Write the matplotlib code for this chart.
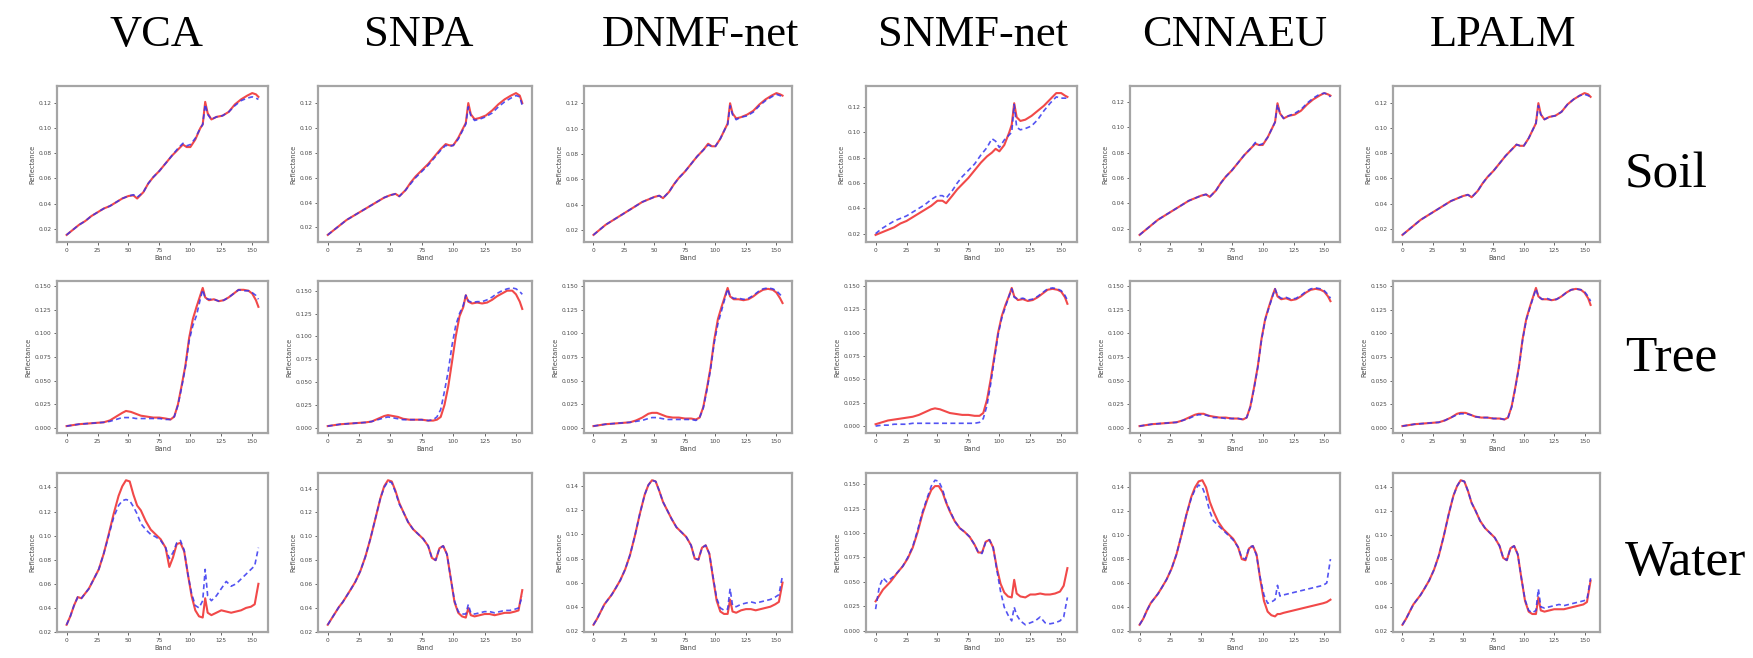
import matplotlib
matplotlib.use('Agg')
import matplotlib.pyplot as plt

# ---------------- data ----------------
methods = ['VCA', 'SNPA', 'DNMF-net', 'SNMF-net', 'CNNAEU', 'LPALM']
materials = ['Soil', 'Tree', 'Water']
x_ticks = [0, 25, 50, 75, 100, 125, 150]

soil_bands = [0, 5, 10, 15, 20, 25, 30, 35, 40, 45, 50, 54, 57, 62, 66, 70, 75, 80, 85, 90,
              94, 97, 100, 104, 108, 110, 112, 114, 117, 121, 126, 131, 136, 141, 146, 150, 153, 155]
tree_bands = [0, 5, 10, 15, 20, 25, 30, 35, 40, 45, 48, 52, 56, 60, 65, 70, 75, 80, 84, 87,
              90, 93, 96, 99, 102, 105, 108, 110, 112, 115, 119, 123, 127, 131, 135, 139, 143, 147, 150, 153, 155]
water_bands = [0, 3, 6, 9, 12, 15, 18, 22, 26, 30, 34, 38, 42, 45, 48, 51, 54, 57, 60, 64, 68, 72, 76, 80,
               83, 86, 89, 92, 95, 98, 101, 104, 107, 110, 112, 114, 117, 121, 125, 129, 133, 137, 141, 145, 149, 152, 155]

soil_yticks = [0.02, 0.04, 0.06, 0.08, 0.10, 0.12]
tree_yticks = [0.000, 0.025, 0.050, 0.075, 0.100, 0.125, 0.150]
water_yticks = [0.02, 0.04, 0.06, 0.08, 0.10, 0.12, 0.14]
water_yticks_snmf = [0.000, 0.025, 0.050, 0.075, 0.100, 0.125, 0.150]

# ---- Soil ----
vca_soil_red = [0.015, 0.019, 0.023, 0.026, 0.030, 0.033, 0.036, 0.038, 0.041, 0.044, 0.046, 0.0465, 0.044, 0.049, 0.056, 0.061, 0.066, 0.072, 0.078, 0.083,
                0.087, 0.085, 0.085, 0.091, 0.100, 0.103, 0.121, 0.112, 0.107, 0.109, 0.110, 0.113, 0.119, 0.123, 0.126, 0.128, 0.127, 0.125]
vca_soil_blue = [0.015, 0.019, 0.023, 0.026, 0.030, 0.033, 0.036, 0.038, 0.041, 0.044, 0.046, 0.047, 0.045, 0.049, 0.056, 0.061, 0.066, 0.072, 0.078, 0.084,
                 0.088, 0.086, 0.087, 0.092, 0.100, 0.103, 0.119, 0.111, 0.107, 0.109, 0.110, 0.113, 0.118, 0.122, 0.124, 0.125, 0.124, 0.123]
snpa_soil_red = [0.014, 0.018, 0.022, 0.026, 0.029, 0.032, 0.035, 0.038, 0.041, 0.044, 0.046, 0.047, 0.045, 0.050, 0.056, 0.061, 0.066, 0.071, 0.077, 0.083,
                 0.087, 0.086, 0.086, 0.092, 0.100, 0.104, 0.120, 0.111, 0.107, 0.108, 0.110, 0.114, 0.119, 0.123, 0.126, 0.128, 0.126, 0.120]
snpa_soil_blue = [0.014, 0.018, 0.022, 0.026, 0.029, 0.032, 0.035, 0.038, 0.041, 0.044, 0.046, 0.047, 0.045, 0.050, 0.055, 0.060, 0.065, 0.070, 0.076, 0.082,
                  0.086, 0.085, 0.086, 0.091, 0.099, 0.103, 0.117, 0.110, 0.106, 0.107, 0.109, 0.112, 0.117, 0.121, 0.124, 0.126, 0.125, 0.118]
dnmf_soil_red = [0.016, 0.020, 0.024, 0.027, 0.030, 0.033, 0.036, 0.039, 0.042, 0.044, 0.046, 0.047, 0.045, 0.050, 0.056, 0.061, 0.066, 0.072, 0.078, 0.083,
                 0.088, 0.086, 0.086, 0.092, 0.100, 0.104, 0.120, 0.112, 0.108, 0.109, 0.111, 0.114, 0.119, 0.123, 0.126, 0.128, 0.127, 0.126]
dnmf_soil_blue = [0.016, 0.020, 0.024, 0.027, 0.030, 0.033, 0.036, 0.039, 0.042, 0.044, 0.046, 0.047, 0.045, 0.050, 0.056, 0.061, 0.066, 0.072, 0.078, 0.083,
                  0.087, 0.086, 0.086, 0.092, 0.100, 0.103, 0.118, 0.111, 0.107, 0.109, 0.110, 0.113, 0.118, 0.122, 0.125, 0.127, 0.126, 0.125]
snmf_soil_red = [0.019, 0.021, 0.023, 0.025, 0.028, 0.030, 0.033, 0.036, 0.039, 0.042, 0.046, 0.046, 0.044, 0.050, 0.055, 0.059, 0.064, 0.070, 0.076, 0.081,
                 0.084, 0.087, 0.085, 0.090, 0.100, 0.106, 0.123, 0.112, 0.109, 0.110, 0.113, 0.117, 0.121, 0.126, 0.131, 0.131, 0.129, 0.128]
snmf_soil_blue = [0.020, 0.024, 0.027, 0.030, 0.032, 0.034, 0.037, 0.040, 0.043, 0.047, 0.050, 0.050, 0.048, 0.054, 0.060, 0.065, 0.070, 0.075, 0.082, 0.088,
                  0.095, 0.093, 0.088, 0.094, 0.098, 0.100, 0.122, 0.104, 0.102, 0.103, 0.105, 0.110, 0.117, 0.123, 0.128, 0.127, 0.127, 0.127]
cnn_soil_red = [0.015, 0.019, 0.023, 0.027, 0.030, 0.033, 0.036, 0.039, 0.042, 0.044, 0.046, 0.047, 0.045, 0.050, 0.056, 0.061, 0.066, 0.072, 0.078, 0.083,
                0.087, 0.086, 0.086, 0.092, 0.100, 0.104, 0.119, 0.111, 0.107, 0.109, 0.110, 0.113, 0.118, 0.122, 0.125, 0.127, 0.126, 0.125]
cnn_soil_blue = [0.015, 0.019, 0.023, 0.027, 0.030, 0.033, 0.036, 0.039, 0.042, 0.044, 0.046, 0.047, 0.045, 0.050, 0.056, 0.061, 0.066, 0.072, 0.078, 0.083,
                 0.088, 0.086, 0.087, 0.092, 0.100, 0.104, 0.118, 0.111, 0.107, 0.109, 0.111, 0.114, 0.119, 0.123, 0.126, 0.127, 0.126, 0.124]
lpalm_soil_red = [0.015, 0.019, 0.023, 0.027, 0.030, 0.033, 0.036, 0.039, 0.042, 0.044, 0.046, 0.047, 0.045, 0.050, 0.056, 0.061, 0.066, 0.072, 0.078, 0.083,
                  0.087, 0.086, 0.086, 0.092, 0.100, 0.104, 0.120, 0.111, 0.107, 0.109, 0.110, 0.113, 0.119, 0.123, 0.126, 0.128, 0.127, 0.125]
lpalm_soil_blue = [0.015, 0.019, 0.023, 0.027, 0.030, 0.033, 0.036, 0.039, 0.042, 0.044, 0.046, 0.047, 0.045, 0.050, 0.056, 0.061, 0.066, 0.072, 0.078, 0.083,
                   0.087, 0.086, 0.086, 0.092, 0.100, 0.104, 0.118, 0.111, 0.107, 0.109, 0.110, 0.113, 0.119, 0.123, 0.126, 0.127, 0.126, 0.125]

# ---- Tree ----
vca_tree_red = [0.002, 0.003, 0.004, 0.0045, 0.005, 0.0055, 0.006, 0.008, 0.012, 0.016, 0.018, 0.017, 0.015, 0.013, 0.012, 0.011, 0.011, 0.010, 0.009, 0.012,
                0.025, 0.045, 0.066, 0.095, 0.115, 0.128, 0.140, 0.148, 0.138, 0.135, 0.136, 0.134, 0.135, 0.138, 0.142, 0.146, 0.146, 0.145, 0.142, 0.135, 0.128]
vca_tree_blue = [0.002, 0.003, 0.004, 0.0045, 0.005, 0.0055, 0.006, 0.007, 0.009, 0.011, 0.011, 0.011, 0.010, 0.010, 0.010, 0.010, 0.010, 0.009, 0.009, 0.012,
                 0.024, 0.043, 0.064, 0.092, 0.108, 0.119, 0.136, 0.146, 0.137, 0.136, 0.136, 0.134, 0.135, 0.138, 0.142, 0.146, 0.145, 0.145, 0.143, 0.140, 0.136]
snpa_tree_red = [0.002, 0.003, 0.004, 0.0045, 0.005, 0.0055, 0.006, 0.007, 0.010, 0.013, 0.014, 0.013, 0.012, 0.010, 0.009, 0.009, 0.009, 0.008, 0.008, 0.009,
                 0.012, 0.025, 0.045, 0.072, 0.100, 0.122, 0.132, 0.145, 0.138, 0.136, 0.137, 0.136, 0.137, 0.140, 0.144, 0.147, 0.150, 0.150, 0.146, 0.138, 0.130]
snpa_tree_blue = [0.002, 0.003, 0.004, 0.0045, 0.005, 0.0055, 0.006, 0.007, 0.009, 0.011, 0.012, 0.011, 0.010, 0.009, 0.009, 0.009, 0.009, 0.008, 0.009, 0.012,
                  0.020, 0.040, 0.062, 0.090, 0.112, 0.125, 0.134, 0.145, 0.139, 0.137, 0.138, 0.138, 0.140, 0.143, 0.147, 0.150, 0.152, 0.153, 0.152, 0.149, 0.146]
dnmf_tree_red = [0.002, 0.003, 0.004, 0.0045, 0.005, 0.0055, 0.006, 0.008, 0.011, 0.015, 0.016, 0.016, 0.014, 0.012, 0.011, 0.011, 0.010, 0.010, 0.009, 0.011,
                 0.022, 0.042, 0.064, 0.093, 0.115, 0.128, 0.140, 0.148, 0.139, 0.136, 0.136, 0.135, 0.136, 0.139, 0.143, 0.146, 0.147, 0.146, 0.143, 0.137, 0.132]
dnmf_tree_blue = [0.002, 0.003, 0.004, 0.0045, 0.005, 0.0055, 0.006, 0.007, 0.008, 0.010, 0.011, 0.011, 0.010, 0.009, 0.009, 0.009, 0.009, 0.009, 0.008, 0.011,
                  0.021, 0.040, 0.062, 0.090, 0.110, 0.124, 0.138, 0.147, 0.139, 0.137, 0.137, 0.136, 0.137, 0.140, 0.144, 0.147, 0.148, 0.147, 0.145, 0.141, 0.138]
snmf_tree_red = [0.002, 0.004, 0.006, 0.007, 0.008, 0.009, 0.010, 0.012, 0.015, 0.018, 0.019, 0.018, 0.016, 0.014, 0.013, 0.012, 0.012, 0.011, 0.011, 0.014,
                 0.028, 0.050, 0.075, 0.100, 0.118, 0.130, 0.140, 0.148, 0.139, 0.135, 0.136, 0.134, 0.135, 0.138, 0.142, 0.146, 0.147, 0.146, 0.144, 0.138, 0.131]
snmf_tree_blue = [0.000, 0.001, 0.001, 0.002, 0.002, 0.002, 0.003, 0.003, 0.003, 0.003, 0.003, 0.003, 0.003, 0.003, 0.003, 0.003, 0.003, 0.003, 0.004, 0.008,
                  0.022, 0.045, 0.072, 0.098, 0.116, 0.128, 0.140, 0.147, 0.138, 0.136, 0.137, 0.135, 0.136, 0.139, 0.143, 0.147, 0.148, 0.147, 0.145, 0.140, 0.135]
cnn_tree_red = [0.002, 0.003, 0.004, 0.0045, 0.005, 0.0055, 0.006, 0.008, 0.011, 0.014, 0.015, 0.015, 0.013, 0.012, 0.011, 0.011, 0.010, 0.010, 0.009, 0.011,
                0.023, 0.043, 0.065, 0.094, 0.115, 0.128, 0.140, 0.147, 0.139, 0.136, 0.137, 0.135, 0.136, 0.139, 0.143, 0.146, 0.147, 0.146, 0.144, 0.139, 0.134]
cnn_tree_blue = [0.002, 0.003, 0.004, 0.0045, 0.005, 0.0055, 0.006, 0.008, 0.010, 0.013, 0.014, 0.014, 0.013, 0.011, 0.011, 0.010, 0.010, 0.010, 0.009, 0.011,
                 0.022, 0.042, 0.064, 0.093, 0.114, 0.127, 0.139, 0.147, 0.140, 0.137, 0.138, 0.136, 0.137, 0.140, 0.144, 0.147, 0.148, 0.147, 0.145, 0.141, 0.137]
lpalm_tree_red = [0.002, 0.003, 0.004, 0.0045, 0.005, 0.0055, 0.006, 0.008, 0.011, 0.015, 0.016, 0.016, 0.014, 0.012, 0.011, 0.011, 0.010, 0.010, 0.009, 0.011,
                  0.023, 0.043, 0.065, 0.094, 0.115, 0.128, 0.140, 0.148, 0.139, 0.136, 0.136, 0.135, 0.136, 0.139, 0.143, 0.146, 0.147, 0.146, 0.143, 0.137, 0.130]
lpalm_tree_blue = [0.002, 0.003, 0.004, 0.0045, 0.005, 0.0055, 0.006, 0.008, 0.011, 0.014, 0.015, 0.015, 0.014, 0.012, 0.011, 0.011, 0.010, 0.010, 0.009, 0.011,
                   0.022, 0.042, 0.064, 0.093, 0.114, 0.127, 0.139, 0.147, 0.139, 0.136, 0.137, 0.135, 0.136, 0.139, 0.143, 0.146, 0.147, 0.146, 0.144, 0.139, 0.134]

# ---- Water ----
vca_water_red = [0.026, 0.033, 0.042, 0.049, 0.048, 0.052, 0.056, 0.064, 0.072, 0.085, 0.101, 0.118, 0.133, 0.141, 0.146, 0.145, 0.134, 0.125, 0.121, 0.112, 0.105, 0.101, 0.097, 0.090,
                 0.074, 0.082, 0.093, 0.094, 0.087, 0.068, 0.050, 0.038, 0.033, 0.032, 0.048, 0.036, 0.034, 0.036, 0.038, 0.037, 0.036, 0.037, 0.038, 0.040, 0.041, 0.043, 0.060]
vca_water_blue = [0.026, 0.033, 0.042, 0.049, 0.048, 0.052, 0.056, 0.064, 0.072, 0.085, 0.100, 0.115, 0.125, 0.129, 0.130, 0.129, 0.124, 0.118, 0.110, 0.105, 0.101, 0.099, 0.096, 0.090,
                  0.081, 0.086, 0.094, 0.096, 0.088, 0.068, 0.052, 0.042, 0.040, 0.046, 0.072, 0.050, 0.046, 0.050, 0.056, 0.062, 0.058, 0.060, 0.064, 0.068, 0.072, 0.075, 0.090]
snpa_water_red = [0.026, 0.031, 0.036, 0.041, 0.045, 0.050, 0.055, 0.062, 0.071, 0.083, 0.098, 0.115, 0.132, 0.142, 0.147, 0.146, 0.138, 0.128, 0.121, 0.112, 0.106, 0.102, 0.098, 0.092,
                  0.082, 0.080, 0.090, 0.092, 0.085, 0.065, 0.045, 0.036, 0.033, 0.032, 0.040, 0.034, 0.033, 0.034, 0.035, 0.035, 0.034, 0.035, 0.036, 0.036, 0.037, 0.038, 0.055]
snpa_water_blue = [0.026, 0.031, 0.036, 0.041, 0.045, 0.050, 0.055, 0.062, 0.071, 0.083, 0.098, 0.115, 0.132, 0.141, 0.146, 0.145, 0.137, 0.127, 0.121, 0.112, 0.106, 0.102, 0.098, 0.092,
                   0.082, 0.080, 0.090, 0.092, 0.085, 0.065, 0.046, 0.037, 0.035, 0.035, 0.043, 0.036, 0.035, 0.036, 0.037, 0.037, 0.036, 0.037, 0.038, 0.038, 0.039, 0.040, 0.050]
dnmf_water_red = [0.025, 0.030, 0.036, 0.042, 0.046, 0.050, 0.055, 0.062, 0.071, 0.083, 0.099, 0.117, 0.133, 0.141, 0.145, 0.144, 0.136, 0.127, 0.121, 0.113, 0.106, 0.102, 0.098, 0.091,
                  0.080, 0.079, 0.089, 0.091, 0.084, 0.064, 0.045, 0.036, 0.034, 0.034, 0.046, 0.036, 0.035, 0.037, 0.038, 0.038, 0.037, 0.038, 0.039, 0.040, 0.042, 0.044, 0.060]
dnmf_water_blue = [0.025, 0.030, 0.036, 0.042, 0.046, 0.050, 0.055, 0.062, 0.071, 0.083, 0.099, 0.117, 0.133, 0.141, 0.145, 0.144, 0.136, 0.127, 0.121, 0.113, 0.106, 0.102, 0.098, 0.091,
                   0.080, 0.079, 0.089, 0.091, 0.084, 0.065, 0.047, 0.039, 0.037, 0.038, 0.055, 0.041, 0.040, 0.042, 0.043, 0.044, 0.043, 0.044, 0.045, 0.046, 0.048, 0.050, 0.066]
snmf_water_red = [0.030, 0.036, 0.042, 0.046, 0.050, 0.055, 0.060, 0.066, 0.074, 0.085, 0.101, 0.120, 0.135, 0.144, 0.148, 0.148, 0.142, 0.131, 0.122, 0.112, 0.105, 0.101, 0.096, 0.088,
                  0.080, 0.080, 0.091, 0.093, 0.085, 0.064, 0.048, 0.039, 0.035, 0.034, 0.052, 0.038, 0.035, 0.034, 0.037, 0.037, 0.038, 0.037, 0.037, 0.038, 0.040, 0.046, 0.064]
snmf_water_blue = [0.022, 0.045, 0.054, 0.050, 0.053, 0.056, 0.060, 0.066, 0.075, 0.086, 0.103, 0.122, 0.137, 0.148, 0.154, 0.153, 0.145, 0.132, 0.123, 0.112, 0.105, 0.101, 0.096, 0.088,
                   0.080, 0.079, 0.091, 0.093, 0.085, 0.062, 0.040, 0.024, 0.016, 0.010, 0.024, 0.016, 0.010, 0.006, 0.008, 0.010, 0.014, 0.008, 0.007, 0.008, 0.010, 0.014, 0.034]
cnn_water_red = [0.025, 0.030, 0.037, 0.043, 0.047, 0.051, 0.056, 0.063, 0.072, 0.084, 0.100, 0.117, 0.132, 0.140, 0.145, 0.146, 0.140, 0.128, 0.120, 0.111, 0.105, 0.101, 0.097, 0.090,
                 0.080, 0.079, 0.089, 0.091, 0.084, 0.063, 0.045, 0.036, 0.033, 0.032, 0.034, 0.034, 0.035, 0.036, 0.037, 0.038, 0.039, 0.040, 0.041, 0.042, 0.043, 0.044, 0.046]
cnn_water_blue = [0.025, 0.030, 0.037, 0.043, 0.047, 0.051, 0.056, 0.063, 0.072, 0.084, 0.100, 0.117, 0.131, 0.138, 0.142, 0.140, 0.132, 0.120, 0.112, 0.108, 0.104, 0.100, 0.096, 0.090,
                  0.081, 0.080, 0.090, 0.091, 0.083, 0.064, 0.050, 0.043, 0.044, 0.046, 0.058, 0.049, 0.050, 0.051, 0.052, 0.053, 0.054, 0.055, 0.056, 0.057, 0.058, 0.060, 0.080]
lpalm_water_red = [0.025, 0.030, 0.036, 0.042, 0.046, 0.050, 0.055, 0.062, 0.071, 0.083, 0.099, 0.117, 0.133, 0.141, 0.146, 0.145, 0.137, 0.127, 0.121, 0.112, 0.106, 0.102, 0.098, 0.091,
                   0.081, 0.079, 0.089, 0.091, 0.084, 0.064, 0.045, 0.036, 0.034, 0.034, 0.048, 0.037, 0.036, 0.037, 0.038, 0.038, 0.038, 0.039, 0.040, 0.041, 0.042, 0.044, 0.062]
lpalm_water_blue = [0.025, 0.030, 0.036, 0.042, 0.046, 0.050, 0.055, 0.062, 0.071, 0.083, 0.099, 0.117, 0.133, 0.141, 0.146, 0.145, 0.137, 0.127, 0.121, 0.112, 0.106, 0.102, 0.098, 0.091,
                    0.081, 0.079, 0.089, 0.091, 0.084, 0.064, 0.046, 0.037, 0.035, 0.037, 0.055, 0.040, 0.039, 0.040, 0.041, 0.042, 0.041, 0.042, 0.043, 0.044, 0.045, 0.046, 0.064]

# ---------------- layout (pixels) ----------------
W, H = 1753, 658
col_left = [57, 318, 584, 866, 1130, 1393]
col_width = [211, 214, 208, 211, 210, 207]
row_top = [86, 281, 473]
row_height = [156, 152, 159]
title_x = [157, 419, 700, 973, 1235, 1503]
title_y = 35
row_label_x = 1625
row_label_y = [175, 358, 563]

RED = '#f03535'
BLUE = '#3535f0'
GRAY = '#4a4a4a'

plt.rcParams['font.family'] = ['DejaVu Sans']
fig = plt.figure(figsize=(W / 100, H / 100), dpi=100)
fig.patch.set_facecolor('white')

rows = [
    (soil_bands, [vca_soil_red, snpa_soil_red, dnmf_soil_red, snmf_soil_red, cnn_soil_red, lpalm_soil_red],
     [vca_soil_blue, snpa_soil_blue, dnmf_soil_blue, snmf_soil_blue, cnn_soil_blue, lpalm_soil_blue],
     [soil_yticks] * 6),
    (tree_bands, [vca_tree_red, snpa_tree_red, dnmf_tree_red, snmf_tree_red, cnn_tree_red, lpalm_tree_red],
     [vca_tree_blue, snpa_tree_blue, dnmf_tree_blue, snmf_tree_blue, cnn_tree_blue, lpalm_tree_blue],
     [tree_yticks] * 6),
    (water_bands, [vca_water_red, snpa_water_red, dnmf_water_red, snmf_water_red, cnn_water_red, lpalm_water_red],
     [vca_water_blue, snpa_water_blue, dnmf_water_blue, snmf_water_blue, cnn_water_blue, lpalm_water_blue],
     [water_yticks, water_yticks, water_yticks, water_yticks_snmf, water_yticks, water_yticks]),
]

for r, (bands, reds, blues, yts) in enumerate(rows):
    for c in range(6):
        l, w = col_left[c], col_width[c]
        t, h = row_top[r], row_height[r]
        ax = fig.add_axes([l / W, 1 - (t + h) / H, w / W, h / H])
        ax.plot(bands, reds[c], color=RED, lw=1.5, alpha=0.9, zorder=2)
        ax.plot(bands, blues[c], color=BLUE, lw=1.2, ls=(0, (3, 2)), alpha=0.85, zorder=3)
        ax.set_xticks(x_ticks)
        ax.set_yticks(yts[c])
        ax.tick_params(labelsize=4.2, length=2.5, width=0.6, colors=GRAY, pad=1.5)
        ax.set_xlabel('Band', fontsize=4.8, labelpad=1.5, color=GRAY)
        ax.set_ylabel('Reflectance', fontsize=4.8, labelpad=2, color=GRAY)
        for s in ax.spines.values():
            s.set_color('#a5a5a5')
            s.set_linewidth(1.6)

for c, name in enumerate(methods):
    fig.text(title_x[c] / W, 1 - title_y / H, name, ha='center', va='center',
             fontsize=32, family='Liberation Serif', color='black')

for r, name in enumerate(materials):
    fig.text(row_label_x / W, 1 - row_label_y[r] / H, name, ha='left', va='center',
             fontsize=37, family='Liberation Serif', color='black')

fig.savefig('out.png', dpi=100, facecolor='white')
